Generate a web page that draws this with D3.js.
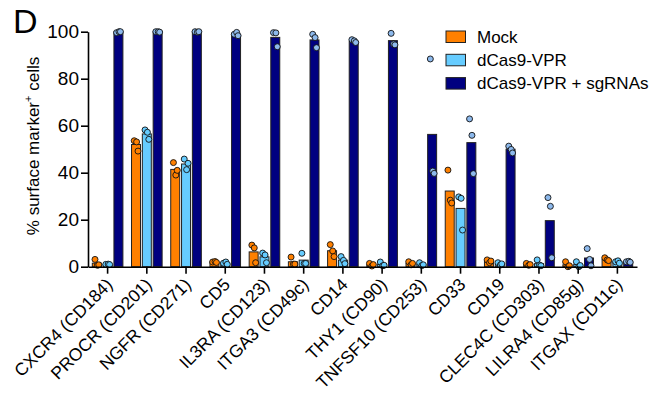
<!DOCTYPE html>
<html>
<head>
<meta charset="utf-8">
<script src="https://cdn.jsdelivr.net/npm/d3@7"></script>
<style>
  html, body { margin: 0; padding: 0; background: #fff; }
  svg { display: block; font-family: "Liberation Sans", Arial, sans-serif; }
</style>
</head>
<body>
<svg id="chart" width="666" height="399"></svg>
<script>
const categories = ["CXCR4 (CD184)", "PROCR (CD201)", "NGFR (CD271)", "CD5", "IL3RA (CD123)",
  "ITGA3 (CD49c)", "CD14", "THY1 (CD90)", "TNFSF10 (CD253)", "CD33", "CD19",
  "CLEC4C (CD303)", "LILRA4 (CD85g)", "ITGAX (CD11c)"];
const seriesNames = ["Mock", "dCas9-VPR", "dCas9-VPR + sgRNAs"];

// bar means (%)
const mockMeans = [1.5, 52.0, 41.4, 2.0, 6.3, 2.1, 6.8, 0.9, 1.4, 32.2, 2.3, 1.0, 0.8, 3.1];
const vprMeans  = [1.0, 56.5, 43.7, 1.5, 4.2, 2.8, 2.8, 1.0, 1.0, 24.8, 1.2, 1.3, 0.9, 2.0];
const sgMeans   = [100, 100, 100, 98.6, 97.6, 96.5, 95.9, 96.2, 56.3, 52.8, 50.0, 19.6, 3.7, 2.1];

// replicate values (%)
const mockReps = [[3.1, 0.6, 0.8], [53.6, 53.1, 49.2], [44.3, 39.0, 41.0], [2.0, 2.2, 1.8],
  [9.2, 8.0, 1.7], [4.1, 1.1, 1.1], [9.4, 6.7, 4.3], [1.4, 0.3, 0.9], [2.1, 0.8, 1.4],
  [41.1, 28.3, 27.1], [2.9, 1.7, 2.4], [1.4, 0.6, 0.9], [2.1, 0.0, 0.4], [3.8, 2.9, 2.6]];
const vprReps = [[1.0, 1.1, 0.9], [58.2, 57.2, 54.2], [45.8, 41.3, 44.0], [1.5, 2.0, 1.0],
  [5.8, 5.0, 1.7], [5.7, 1.4, 1.4], [4.3, 2.7, 1.3], [2.0, 0.4, 0.6], [1.7, 0.5, 0.8],
  [29.7, 29.1, 15.6], [1.7, 0.7, 1.2], [2.9, 0.7, 0.4], [2.1, 0.0, 0.5], [2.1, 2.5, 1.5]];
const sgReps = [[99.6, 100, 100], [100, 100, 99.8], [100, 99.8, 100], [98.9, 99.7, 98.3],
  [99.6, 99.5, 93.6], [98.9, 97.5, 93.2], [96.6, 96.1, 95.4], [99.3, 94.8, 94.4],
  [88.4, 40.7, 39.7], [62.9, 55.9, 39.6], [51.3, 49.9, 48.4], [29.4, 25.7, 3.8],
  [7.7, 3.1, 0.4], [2.1, 2.3, 1.9]];

const yTicks = [0, 20, 40, 60, 80, 100];

const barColors = ["#FF8000", "#66CCFF", "#000080"];
const dotColors = ["#FF8000", "#66CCFF", "#8DB9EC"];

const svg = d3.select("#chart");

const x = d3.scaleBand().domain(categories).range([88, 637]).padding(0);
const y = d3.scaleLinear().domain([0, 100]).range([266.7, 31.7]);
const sub = d3.scaleBand().domain([0, 1, 2]).range([-15.3, 15.3]).paddingInner(0.17).paddingOuter(0);

const means = [mockMeans, vprMeans, sgMeans];
const reps = [mockReps, vprReps, sgReps];

// bars
const barData = [];
categories.forEach((c, i) => {
  for (let s = 0; s < 3; s++) barData.push({ c, s, v: means[s][i] });
});
svg.append("g").selectAll("rect").data(barData).join("rect")
  .attr("x", d => x(d.c) + x.bandwidth() / 2 + sub(d.s))
  .attr("y", d => y(d.v))
  .attr("width", sub.bandwidth())
  .attr("height", d => y(0) - y(d.v))
  .attr("fill", d => barColors[d.s])
  .attr("stroke", "#222")
  .attr("stroke-width", 1);

// dots
const jitter = [-1.8, 0.6, 2.0];
const dotData = [];
categories.forEach((c, i) => {
  for (let s = 0; s < 3; s++) {
    reps[s][i].forEach((v, r) => dotData.push({ c, s, v, r }));
  }
});
svg.append("g").selectAll("circle").data(dotData).join("circle")
  .attr("cx", d => x(d.c) + x.bandwidth() / 2 + sub(d.s) + sub.bandwidth() / 2 + jitter[d.r])
  .attr("cy", d => y(d.v))
  .attr("r", 3)
  .attr("fill", d => dotColors[d.s])
  .attr("stroke", "#111")
  .attr("stroke-width", 0.9);

// y axis
const yAxis = svg.append("g").attr("transform", "translate(88,0)")
  .call(d3.axisLeft(y).tickValues(yTicks).tickSize(7).tickPadding(2).tickSizeOuter(0));
yAxis.select(".domain").attr("stroke", "#000").attr("stroke-width", 1.6);
yAxis.selectAll(".tick line").attr("stroke", "#000").attr("stroke-width", 1.6);
yAxis.selectAll(".tick text").attr("font-size", 19).attr("fill", "#000")
  .attr("font-family", "Liberation Sans, Arial, sans-serif");

// x axis
const xAxis = svg.append("g").attr("transform", `translate(0,${y(0)})`)
  .call(d3.axisBottom(x).tickSize(7).tickSizeOuter(0).tickFormat(""));
xAxis.select(".domain").attr("stroke", "#000").attr("stroke-width", 1.6);
xAxis.selectAll(".tick line").attr("stroke", "#000").attr("stroke-width", 1.6);

// x labels
svg.append("g").selectAll("text").data(categories).join("text")
  .attr("transform", d => `translate(${x(d) + x.bandwidth() / 2 + 6},${y(0) + 19}) rotate(-45)`)
  .attr("text-anchor", "end")
  .attr("font-size", 17.5)
  .attr("fill", "#000")
  .text(d => d);

// y label
const yl = svg.append("text")
  .attr("transform", "translate(39,146) rotate(-90)")
  .attr("text-anchor", "middle")
  .attr("font-size", 17)
  .attr("fill", "#000");
yl.append("tspan").text("% surface marker");
yl.append("tspan").attr("font-size", 11).attr("dy", -7).text("+");
yl.append("tspan").attr("dy", 7).text(" cells");

// panel letter
svg.append("text").attr("x", 13).attr("y", 33).attr("font-size", 34).attr("fill", "#000").text("D");

// legend
const legend = svg.append("g").selectAll("g").data(seriesNames).join("g")
  .attr("transform", (d, i) => `translate(446,${31 + i * 23.3})`);
legend.append("rect").attr("width", 19.5).attr("height", 11.5)
  .attr("fill", (d, i) => barColors[i]).attr("stroke", "#222").attr("stroke-width", 1);
legend.append("text").attr("x", 31).attr("y", 11.8).attr("font-size", 17).attr("fill", "#000")
  .text(d => d);
</script>
</body>
</html>
